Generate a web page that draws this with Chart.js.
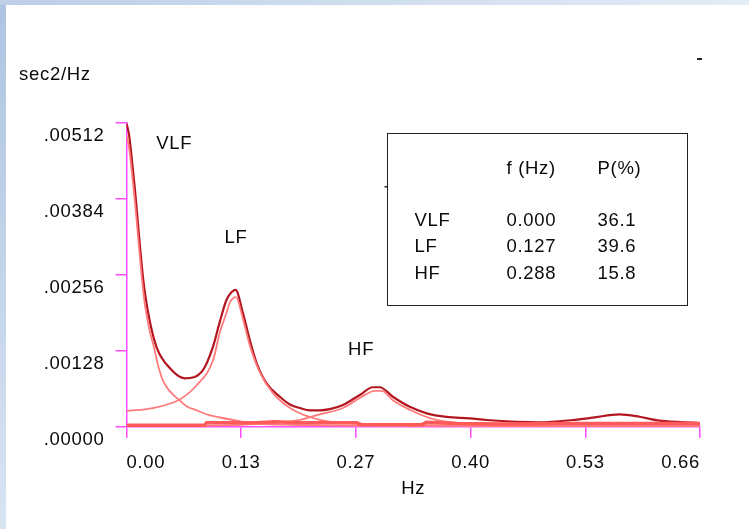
<!DOCTYPE html>
<html>
<head>
<meta charset="utf-8">
<title>HRV power spectrum</title>
<script src="https://cdn.jsdelivr.net/npm/chart.js@4.4.1/dist/chart.umd.min.js"></script>
<style>
  html, body { margin: 0; padding: 0; background: #fff; }
  #page { position: relative; width: 749px; height: 529px; overflow: hidden; background: #fff; }
  #edgeLeft { position: absolute; left: 0; top: 0; width: 6px; height: 529px;
              background: linear-gradient(to bottom, #aec4e1, #d8e4f2); }
  #edgeTop { position: absolute; left: 0; top: 0; width: 749px; height: 5px;
             background: linear-gradient(to right, #bccfe7, #e4ecf6); }
  #spectrum { position: absolute; left: 0; top: 0; }
</style>
</head>
<body>
<div id="page">
  <div id="edgeLeft"></div>
  <div id="edgeTop"></div>
  <canvas id="spectrum" width="749" height="529"></canvas>
</div>

<script>
// axis ticks
const xTickValues = [0, 0.132, 0.264, 0.396, 0.528, 0.66];
const xTickLabels = ['0.00', '0.13', '0.27', '0.40', '0.53', '0.66'];
const yTickValues = [0, 0.00128, 0.00256, 0.00384, 0.00512];
const yTickLabels = ['.00000', '.00128', '.00256', '.00384', '.00512'];

// total spectrum (sec2/Hz)
const totalHz  = [0.000, 0.003, 0.006, 0.010, 0.014, 0.0175, 0.021, 0.027, 0.035, 0.050, 0.067,
                  0.088, 0.0995, 0.1075, 0.115, 0.119, 0.1255, 0.134, 0.142, 0.150, 0.161, 0.1765,
                  0.188, 0.1995, 0.211, 0.2225, 0.234, 0.249, 0.2685, 0.2835, 0.2915, 0.3065, 0.326,
                  0.3455, 0.3685, 0.395, 0.4145, 0.4755, 0.5135, 0.5365, 0.5675, 0.5905, 0.6135, 0.657];
const totalPsd = [0.00512, 0.00492, 0.00453, 0.00396, 0.00329, 0.00273, 0.00228, 0.00177, 0.00133, 0.00099, 0.00082,
                  0.00096, 0.00135, 0.00178, 0.00214, 0.00224, 0.00231, 0.00192, 0.00146, 0.00107, 0.00074, 0.00051,
                  0.00038, 0.00032, 0.00028, 0.00028, 0.00030, 0.00037, 0.00054, 0.00067, 0.00067, 0.00051, 0.00034,
                  0.00023, 0.00017, 0.000146, 0.000118, 0.00008, 0.000118, 0.000157, 0.000214, 0.000173, 0.000106, 0.000072];

// band components
const vlfHz  = [0.000, 0.003, 0.006, 0.010, 0.014, 0.0175, 0.021, 0.027, 0.031, 0.0365, 0.042,
                0.050, 0.0595, 0.069, 0.081, 0.095, 0.1075, 0.1255, 0.1455, 0.18, 0.30, 0.66];
const vlfPsd = [0.00490, 0.00470, 0.00432, 0.00375, 0.00309, 0.00253, 0.00208, 0.00160, 0.00138, 0.00103, 0.00078,
                0.00060, 0.00047, 0.00035, 0.00028, 0.00020, 0.00016, 0.00011, 0.00006, 0.00004, 0.00002, 0.00001];

const lfHz  = [0.000, 0.030, 0.0595, 0.0805, 0.0995, 0.1075, 0.115, 0.119, 0.126, 0.134, 0.142,
               0.1535, 0.1685, 0.1915, 0.2225, 0.26, 0.35, 0.66];
const lfPsd = [0.00027, 0.00032, 0.00045, 0.00070, 0.00112, 0.00160, 0.00192, 0.00210, 0.00219, 0.00182, 0.00137,
               0.00092, 0.00057, 0.00029, 0.00012, 0.00006, 0.00003, 0.00001];

const hfHz  = [0.000, 0.15, 0.20, 0.219, 0.249, 0.2685, 0.286, 0.294, 0.3065, 0.326, 0.349, 0.368, 0.42, 0.66];
const hfPsd = [0.00001, 0.00005, 0.00012, 0.00020, 0.00032, 0.00049, 0.00061, 0.00061, 0.00045, 0.00029, 0.00015,
               0.00009, 0.00004, 0.00002];

// low residual floor
const baseHz  = [0.000, 0.090, 0.092, 0.150, 0.170, 0.200, 0.265, 0.270, 0.340, 0.345, 0.380, 0.440, 0.500, 0.660];
const basePsd = [0.00003, 0.00003, 0.00007, 0.00007, 0.00009, 0.00007, 0.00007, 0.00004, 0.00004, 0.00008, 0.00006,
                 0.00005, 0.00006, 0.00006];

// summary table
const bandNames = ['VLF', 'LF', 'HF'];
const bandFreq  = ['0.000', '0.127', '0.288'];
const bandPower = ['36.1', '39.6', '15.8'];

const axisPink = '#ff4dff';
const inkColor = '#0a0a0a';
const fontFamily = '"Liberation Sans", Arial, sans-serif';
const fontSize = 18.5;
const spacing = '0.7px';
const textFont = { family: fontFamily, size: fontSize, weight: 'normal' };

function pairs(xs, ys) {
    return xs.map((v, i) => ({ x: v, y: ys[i] }));
}

// peak names, summary box and stray marks
const spectrumDecor = {
    id: 'spectrumDecor',
    beforeLayout(chart) { chart.ctx.letterSpacing = spacing; },
    beforeDraw(chart) { chart.ctx.letterSpacing = spacing; },
    afterDatasetsDraw(chart, args, opts) {
        const ctx = chart.ctx;
        const x = chart.scales.x, y = chart.scales.y;
        ctx.save();
        ctx.letterSpacing = spacing;
        ctx.font = fontSize + 'px ' + fontFamily;
        ctx.fillStyle = inkColor;
        ctx.textBaseline = 'middle';

        ctx.textAlign = 'center';
        opts.peaks.forEach(p => {
            ctx.fillText(p.text, x.getPixelForValue(p.hz), y.getPixelForValue(p.psd));
        });

        const left = Math.round(x.getPixelForValue(opts.box.hz0)) + 0.5;
        const right = Math.round(x.getPixelForValue(opts.box.hz1)) + 0.5;
        const top = Math.round(y.getPixelForValue(opts.box.psd0)) + 0.5;
        const bottom = Math.round(y.getPixelForValue(opts.box.psd1)) + 0.5;
        ctx.strokeStyle = '#222';
        ctx.lineWidth = 1;
        ctx.strokeRect(left, top, right - left, bottom - top);

        ctx.textAlign = 'left';
        ctx.fillText('f (Hz)', left + 119, top + 35);
        ctx.fillText('P(%)', left + 210, top + 35);
        bandNames.forEach((name, i) => {
            const ry = top + 87 + i * 26.5;
            ctx.fillText(name, left + 27, ry);
            ctx.fillText(bandFreq[i], left + 119, ry);
            ctx.fillText(bandPower[i], left + 210, ry);
        });

        ctx.fillStyle = '#222';
        ctx.fillRect(left - 3, 186, 3, 1.5);
        ctx.fillRect(697, 58, 5, 2);
        ctx.restore();
    }
};

const lineStyle = { pointRadius: 0, fill: false, cubicInterpolationMode: 'monotone' };

const ctx = document.getElementById('spectrum');
const chart = new Chart(ctx, {
    type: 'line',
    data: {
        datasets: [
            { label: 'floor', data: pairs(baseHz, basePsd), borderColor: '#ff5a5a', borderWidth: 3.5, pointRadius: 0, tension: 0 },
            Object.assign({ label: 'HF', data: pairs(hfHz, hfPsd), borderColor: '#ff7b7b', borderWidth: 1.8 }, lineStyle),
            Object.assign({ label: 'LF', data: pairs(lfHz, lfPsd), borderColor: '#ff7b7b', borderWidth: 1.8 }, lineStyle),
            Object.assign({ label: 'VLF', data: pairs(vlfHz, vlfPsd), borderColor: '#ff7b7b', borderWidth: 1.8 }, lineStyle),
            Object.assign({ label: 'total', data: pairs(totalHz, totalPsd), borderColor: '#b3161e', borderWidth: 2.2 }, lineStyle)
        ]
    },
    options: {
        responsive: false,
        animation: false,
        devicePixelRatio: 1,
        layout: { padding: { left: 19, right: 49, top: 0, bottom: 29 } },
        plugins: {
            legend: { display: false },
            tooltip: { enabled: false },
            title: {
                display: true, text: 'sec2/Hz', align: 'start', color: inkColor,
                font: textFont, padding: { top: 64, bottom: 37 }
            },
            spectrumDecor: {
                peaks: [
                    { text: 'VLF', hz: 0.055, psd: 0.00477 },
                    { text: 'LF', hz: 0.126, psd: 0.00318 },
                    { text: 'HF', hz: 0.27, psd: 0.0013 }
                ],
                box: { hz0: 0.2995, hz1: 0.6445, psd0: 0.00495, psd1: 0.002055 }
            }
        },
        scales: {
            x: {
                type: 'linear', min: 0, max: 0.66,
                afterBuildTicks: s => { s.ticks = xTickValues.map(v => ({ value: v })); },
                afterFit: s => { s.height = 73; },
                border: { color: axisPink, width: 1.5 },
                grid: { drawOnChartArea: false, drawTicks: true, tickLength: 11, color: axisPink, lineWidth: 1.5 },
                ticks: {
                    autoSkip: false, maxRotation: 0, padding: 14, align: 'inner', color: inkColor, font: textFont,
                    callback: (v, i) => xTickLabels[i]
                },
                title: { display: true, text: 'Hz', color: inkColor, font: textFont, padding: 0 }
            },
            y: {
                type: 'linear', min: 0, max: 0.00512,
                afterBuildTicks: s => { s.ticks = yTickValues.map(v => ({ value: v })); },
                afterFit: s => { s.width = 107.5; },
                border: { color: axisPink, width: 1.5 },
                grid: { drawOnChartArea: false, drawTicks: true, tickLength: 11, color: axisPink, lineWidth: 1.5 },
                ticks: {
                    autoSkip: false, padding: 11, labelOffset: 13, color: inkColor, font: textFont,
                    callback: (v, i) => yTickLabels[i]
                }
            }
        }
    },
    plugins: [spectrumDecor]
});
</script>
</body>
</html>
